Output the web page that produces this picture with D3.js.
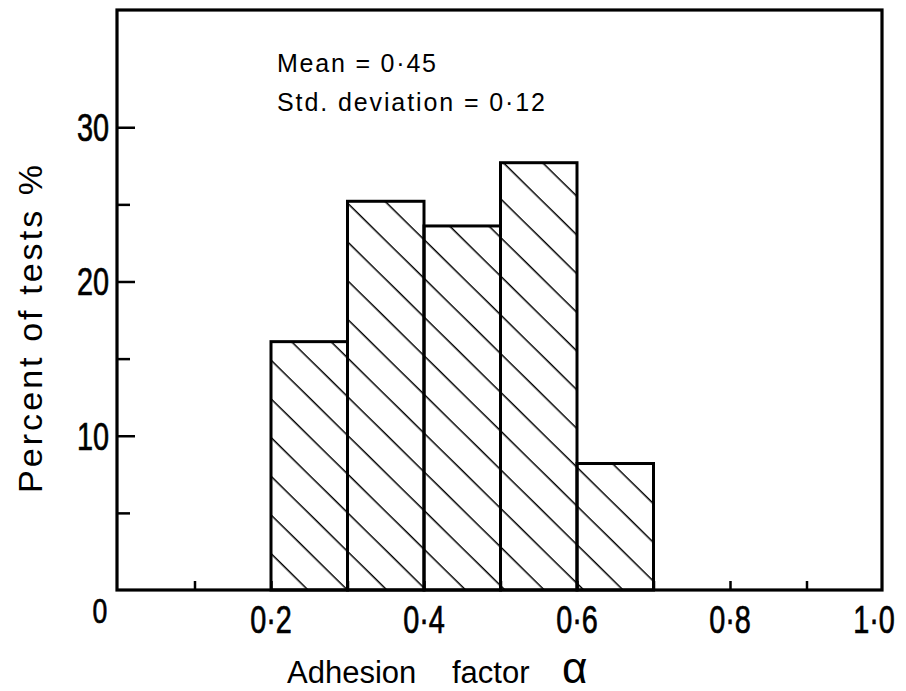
<!DOCTYPE html>
<html>
<head>
<meta charset="utf-8">
<script src="https://cdn.jsdelivr.net/npm/d3@7"></script>
<style>
  html, body { margin: 0; padding: 0; background: #fff; }
  svg { display: block; }
  text { font-family: "Liberation Sans", Arial, Helvetica, sans-serif; fill: #000; }
</style>
</head>
<body>
<svg id="chart" width="906" height="691"></svg>
<script>
// ---- data ----
const binStarts = [0.2, 0.3, 0.4, 0.5, 0.6];
const binEnds   = [0.3, 0.4, 0.5, 0.6, 0.7];
const percents  = [16.1, 25.2, 23.6, 27.7, 8.2];

const xTickValues = [0.1, 0.2, 0.3, 0.4, 0.5, 0.6, 0.7, 0.8, 0.9];
const xTickLabels = ["", "0·2", "", "0·4", "", "0·6", "", "0·8", ""];
const xEndLabel = "1·0";
const yMajorTicks = [10, 20, 30];
const yMajorLabels = ["10", "20", "30"];
const yMinorTicks = [5, 15, 25];
const originLabel = "0";
const xTitle = ["Adhesion", "factor", "α"];
const yTitle = "Percent  of  tests  %";
const notes = ["Mean = 0·45", "Std. deviation = 0·12"];

// ---- layout ----
const svg = d3.select("#chart");
const X0 = 118, X1 = 883, Y0 = 590, Y1 = 10;
const x = d3.scaleLinear().domain([0, 1]).range([X0, X1]);
const y = d3.scaleLinear().domain([0, 37.6]).range([Y0, Y1]);

// hatch pattern
const defs = svg.append("defs");
const pat = defs.append("pattern")
  .attr("id", "hatch")
  .attr("patternUnits", "userSpaceOnUse")
  .attr("width", 40).attr("height", 27.6)
  .attr("patternTransform", "translate(272,360) rotate(44.5)");
pat.append("line")
  .attr("x1", -2).attr("x2", 42).attr("y1", 0).attr("y2", 0)
  .attr("stroke", "#000").attr("stroke-width", 2.8);

// x ticks (inward)
const xAxis = d3.axisBottom(x)
  .tickValues(xTickValues)
  .tickSizeInner(-9).tickSizeOuter(0)
  .tickPadding(0)
  .tickFormat(() => "");
const gx = svg.append("g").attr("transform", `translate(0,${Y0})`).call(xAxis);
gx.select(".domain").remove();
gx.selectAll(".tick line").attr("stroke", "#000").attr("stroke-width", 2.5);

// y ticks (inward)
const gyMinor = svg.append("g").attr("transform", `translate(${X0},0)`)
  .call(d3.axisLeft(y).tickValues(yMinorTicks).tickSizeInner(-12).tickSizeOuter(0).tickFormat(() => ""));
gyMinor.select(".domain").remove();
gyMinor.selectAll(".tick line").attr("stroke", "#000").attr("stroke-width", 2.5);

const gyMajor = svg.append("g").attr("transform", `translate(${X0},0)`)
  .call(d3.axisLeft(y).tickValues(yMajorTicks).tickSizeInner(-17).tickSizeOuter(0).tickFormat(() => ""));
gyMajor.select(".domain").remove();
gyMajor.selectAll(".tick line").attr("stroke", "#000").attr("stroke-width", 2.5);

// bars
svg.append("g").selectAll("rect")
  .data(percents)
  .join("rect")
  .attr("x", (d, i) => x(binStarts[i]))
  .attr("width", (d, i) => x(binEnds[i]) - x(binStarts[i]))
  .attr("y", d => y(d))
  .attr("height", d => y(0) - y(d))
  .attr("fill", "url(#hatch)")
  .attr("stroke", "#000")
  .attr("stroke-width", 3);

// frame
svg.append("rect")
  .attr("x", x(0) - 1).attr("y", Y1)
  .attr("width", x(1) - x(0)).attr("height", Y0 - Y1)
  .attr("fill", "none").attr("stroke", "#000").attr("stroke-width", 3.2);

// tick labels (condensed look)
const labFont = 39, sx = 0.74;
const lab = svg.append("g").attr("stroke", "#000").attr("stroke-width", 0.7);
xTickValues.forEach((v, i) => {
  if (!xTickLabels[i]) return;
  lab.append("text")
    .attr("transform", `translate(${x(v)},${Y0 + 43}) scale(${sx},1)`)
    .attr("text-anchor", "middle").attr("font-size", labFont)
    .text(xTickLabels[i]);
});
lab.append("text")
  .attr("transform", `translate(${x(1) - 9},${Y0 + 43}) scale(${sx},1)`)
  .attr("text-anchor", "middle").attr("font-size", labFont)
  .text(xEndLabel);

yMajorTicks.forEach((v, i) => {
  lab.append("text")
    .attr("transform", `translate(${X0 - 9},${y(v) + 14}) scale(${sx},1)`)
    .attr("text-anchor", "end").attr("font-size", labFont)
    .text(yMajorLabels[i]);
});
lab.append("text")
  .attr("transform", `translate(${X0 - 18},${Y0 + 33}) scale(${sx},1)`)
  .attr("text-anchor", "middle").attr("font-size", 36)
  .text(originLabel);

// axis titles
const xt = svg.append("text").attr("y", 683).attr("font-size", 31);
xt.append("tspan").attr("x", 287).text(xTitle[0]);
xt.append("tspan").attr("x", 452).text(xTitle[1]);
xt.append("tspan").attr("x", 562).attr("font-size", 44).text(xTitle[2]);

svg.append("text")
  .attr("transform", "translate(42,329) rotate(-90)")
  .attr("text-anchor", "middle").attr("font-size", 34)
  .attr("textLength", 328).attr("lengthAdjust", "spacing")
  .text(yTitle);

// annotation
svg.append("text").attr("x", 277).attr("y", 72).attr("font-size", 25)
  .attr("textLength", 159).attr("lengthAdjust", "spacing").text(notes[0]);
svg.append("text").attr("x", 277).attr("y", 111).attr("font-size", 25)
  .attr("textLength", 268).attr("lengthAdjust", "spacing").text(notes[1]);
</script>
</body>
</html>
